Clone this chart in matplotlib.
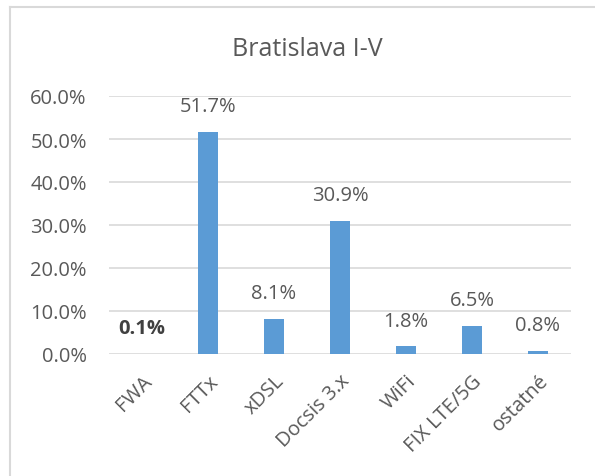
import matplotlib
matplotlib.use("Agg")
import matplotlib.pyplot as plt
from matplotlib.lines import Line2D

categories = ["FWA", "FTTx", "xDSL", "Docsis 3.x", "WiFi", "FIX LTE/5G", "ostatné"]
values = [0.1, 51.7, 8.1, 30.9, 1.8, 6.5, 0.8]
label_texts = ["0.1%", "51.7%", "8.1%", "30.9%", "1.8%", "6.5%", "0.8%"]
bold_labels = [True, False, False, False, False, False, False]
yticks = [0, 10, 20, 30, 40, 50, 60]
ytick_labels = ["0.0%", "10.0%", "20.0%", "30.0%", "40.0%", "50.0%", "60.0%"]
title = "Bratislava I-V"

plt.rcParams['font.family'] = ['Open Sans', 'DejaVu Sans']
txt = '#595959'
W, H = 595, 477
fig = plt.figure(figsize=(W/100, H/100), dpi=100)
fig.patch.set_facecolor('white')

# chart border (partially visible)
fig.add_artist(Line2D([10/W, 10/W], [0, 1 - 8/H], color='#D9D9D9', lw=1.5, transform=fig.transFigure))
fig.add_artist(Line2D([10/W, 1], [1 - 8/H, 1 - 8/H], color='#D9D9D9', lw=1.5, transform=fig.transFigure))

ax = fig.add_axes([109/W, 1 - 355/H, (571 - 109)/W, (355 - 97)/H])
x = range(len(categories))
ax.bar(x, values, width=0.3, color='#5B9BD5', zorder=3)
ax.set_xlim(-0.5, len(categories) - 0.5)
ax.set_ylim(0, 60)
ax.set_yticks(yticks)
ax.set_yticklabels(ytick_labels, fontsize=14.5, color=txt)
ax.set_xticks(list(x))
ax.set_xticklabels(categories, rotation=45, ha='right', rotation_mode='anchor', fontsize=14.5, color=txt)
ax.tick_params(axis='both', length=0)
ax.tick_params(axis='y', pad=16)
ax.tick_params(axis='x', pad=12)
ax.grid(axis='y', color='#D9D9D9', lw=1.2, zorder=0)
for s in ax.spines.values():
    s.set_visible(False)

for i, (v, t, b) in enumerate(zip(values, label_texts, bold_labels)):
    ax.annotate(t, (i, v), xytext=(0, 18.5), textcoords='offset points', ha='center', va='center',
                fontsize=14.5, color=('#404040' if b else txt), fontweight=('bold' if b else 'normal'))

fig.text(307/W, 1 - 49/H, title, ha='center', va='center', fontsize=18, color=txt)

fig.savefig('out.png', dpi=100)
